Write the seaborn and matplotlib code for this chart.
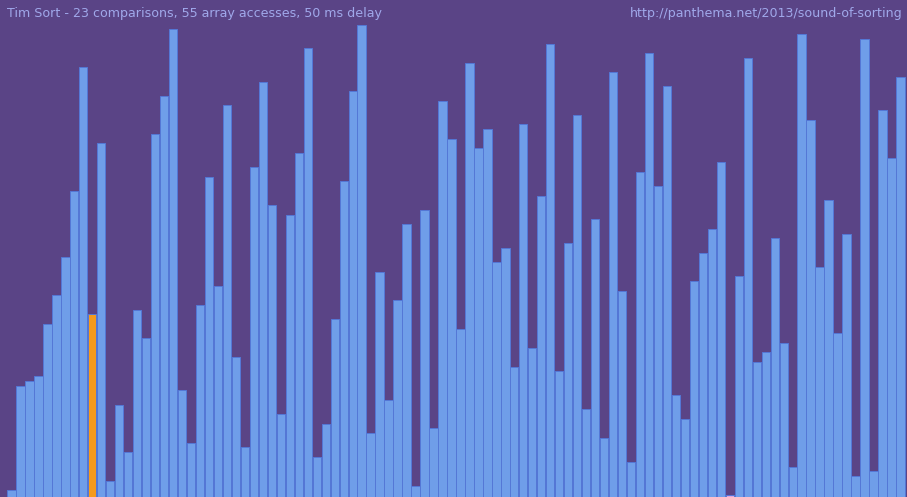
import numpy as np
import pandas as pd
import matplotlib
matplotlib.use("Agg")
import matplotlib.pyplot as plt
import seaborn as sns

# array state of the sort (values 0..99), left to right
values = [1, 23, 24, 25, 36, 42, 50, 64, 90, 38,
          74, 3, 19, 9, 39, 33, 76, 84, 98, 22,
          11, 40, 67, 44, 82, 29, 10, 69, 87, 61,
          17, 59, 72, 94, 8, 15, 37, 66, 85, 99,
          13, 47, 20, 41, 57, 2, 60, 14, 83, 75,
          35, 91, 73, 77, 49, 52, 27, 78, 31, 63,
          95, 26, 53, 80, 18, 58, 12, 89, 43, 7,
          68, 93, 65, 86, 21, 16, 45, 51, 56, 70,
          0, 46, 92, 28, 30, 54, 32, 6, 97, 79,
          48, 62, 34, 55, 4, 96, 5, 81, 71, 88]
active_idx = 9      # orange marker
min_idx = 80        # pink marker
title = "Tim Sort - 23 comparisons, 55 array accesses, 50 ms delay"
url = "http://panthema.net/2013/sound-of-sorting"

bg = "#5a4486"
bar_col = "#6f9ee9"
edge_col = "#5478d6"
txt_col = "#a0a8ea"

df = pd.DataFrame({"pos": np.arange(len(values)), "value": values})
cols = [bar_col] * len(values)
cols[active_idx] = "#f59a1c"
cols[min_idx] = "#e0a8e0"

fig = plt.figure(figsize=(9.07, 4.97), dpi=100)
fig.patch.set_facecolor(bg)
ax = fig.add_axes([0, 0, 1, 1])
ax.set_facecolor(bg)

sns.barplot(data=df, x="pos", y="value", hue="pos", palette=cols, legend=False,
            width=0.93, edgecolor=edge_col, linewidth=0.7, saturation=1, ax=ax)

# bars in the visualiser sit slightly below zero so that 0 still shows
base = -0.42
for p in ax.patches:
    h = p.get_height()
    p.set_y(base)
    p.set_height(h - base)

ax.set_xlim(-1.275, 99.73)
ax.set_ylim(base, 104.2)
ax.axis("off")

fig.text(7 / 907, 1 - 13 / 497, title, color=txt_col, fontsize=9.1,
         ha="left", va="center")
fig.text(903 / 907, 1 - 13 / 497, url, color=txt_col, fontsize=9.1,
         ha="right", va="center")

fig.savefig("out.png", dpi=100, facecolor=bg)
